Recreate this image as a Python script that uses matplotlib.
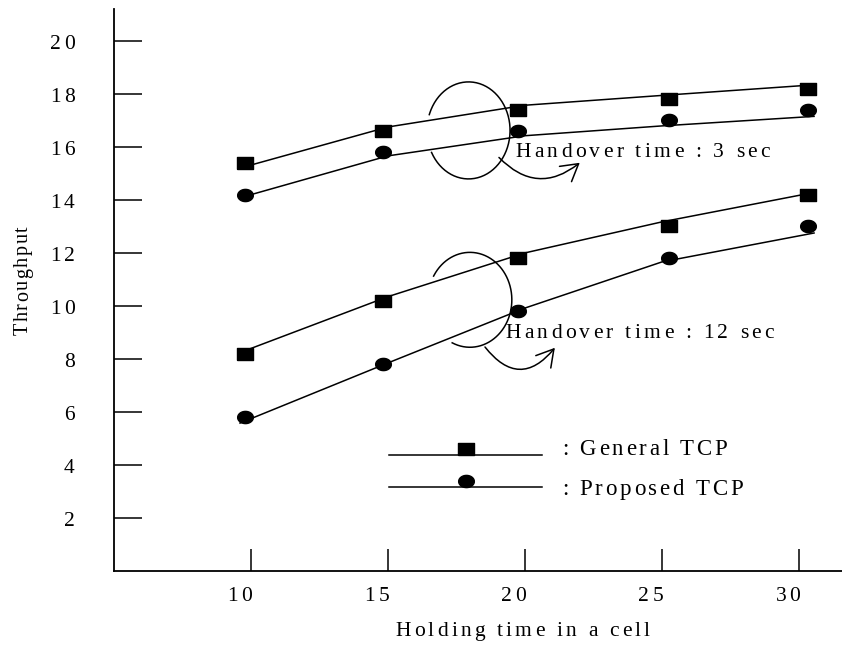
import numpy as np
import matplotlib
matplotlib.use("Agg")
import matplotlib.pyplot as plt
from matplotlib import font_manager
from matplotlib.ft2font import FT2Font
from matplotlib.font_manager import FontProperties
from matplotlib.transforms import IdentityTransform
from matplotlib.patches import FancyArrowPatch

# ===================================================================
# Data
# ===================================================================

hold_time = [10, 15, 20, 25, 30]
y_ticks = [2, 4, 6, 8, 10, 12, 14, 16, 18, 20]

# marker positions (markers sit slightly left of the ticks in the original)
marker_x = [9.78, 14.8, 19.75, 25.26, 30.33]
general_3s = [15.4, 16.6, 17.4, 17.8, 18.2]
proposed_3s = [14.2, 15.8, 16.6, 17.0, 17.4]
general_12s = [8.2, 10.2, 11.8, 13.0, 14.2]
proposed_12s = [5.8, 7.8, 9.8, 11.8, 13.0]

# the drawn curves do not pass exactly through the markers
curve_x = [9.6, 15, 20, 25, 30.55]
general_3s_curve = [15.2, 16.75, 17.57, 17.94, 18.34]
proposed_3s_curve = [14.08, 15.66, 16.42, 16.79, 17.15]
general_12s_curve = [8.24, 10.35, 12.0, 13.17, 14.28]
proposed_12s_curve = [5.58, 7.85, 9.92, 11.66, 12.75]

# ===================================================================
# Helpers
# ===================================================================

SERIF = "Liberation Serif"
DPI = 100
FONT_PATH = font_manager.findfont(FontProperties(family=SERIF))


def advances(s, size):
    font = FT2Font(FONT_PATH, hinting_factor=1)
    font.set_size(size, DPI)
    return [font.load_char(ord(ch)).linearHoriAdvance / 65536.0 for ch in s]


def spaced_text(fig, x, y, s, size, gap, ha="left", vertical=False):
    # letter-spaced text, x/y in display pixels (baseline)
    adv = advances(s, size)
    total = sum(adv) + gap * (len(s) - 1)
    pos = {"left": 0.0, "center": -total / 2, "right": -total}[ha]
    for ch, a in zip(s, adv):
        if ch != " ":
            if vertical:
                fig.text(x, y + pos, ch, rotation=90, rotation_mode="anchor",
                         ha="left", va="baseline", fontsize=size, family=SERIF,
                         transform=IdentityTransform())
            else:
                fig.text(x + pos, y, ch, ha="left", va="baseline",
                         fontsize=size, family=SERIF,
                         transform=IdentityTransform())
        pos += a + gap


def ellipse_arc(ax, cx, cy, a, b, t1, t2):
    t = np.radians(np.linspace(t1, t2, 200))
    ax.plot(cx + a * np.cos(t), cy + b * np.sin(t), color="black", lw=1.1)


RECT = [(-1, -0.8), (1, -0.8), (1, 0.8), (-1, 0.8), (-1, -0.8)]
_t = np.linspace(0, 2 * np.pi, 40)
OVAL = list(zip(np.cos(_t), 0.78 * np.sin(_t)))

# ===================================================================
# Plot
# ===================================================================

W, H = 842, 646
fig = plt.figure(figsize=(W / DPI, H / DPI), dpi=DPI)
ax = fig.add_axes([114 / W, 75 / H, 1 - 114 / W, (571 - 9) / H])
ax.set_xlim(5, 31.57)
ax.set_ylim(0, 21.2)

for sp in ["top", "right"]:
    ax.spines[sp].set_visible(False)
for sp in ["left", "bottom"]:
    ax.spines[sp].set_linewidth(1.3)

ax.set_xticks(hold_time)
ax.set_yticks(y_ticks)
ax.tick_params(axis="y", direction="in", length=20, width=1.1,
               labelleft=False)
ax.tick_params(axis="x", direction="in", length=16, width=1.1,
               labelbottom=False)

for cx, cy in [(curve_x, general_3s_curve), (curve_x, proposed_3s_curve),
               (curve_x, general_12s_curve), (curve_x, proposed_12s_curve)]:
    ax.plot(cx, cy, color="black", lw=1.1)

for ys, mk in [(general_3s, RECT), (proposed_3s, OVAL),
               (general_12s, RECT), (proposed_12s, OVAL)]:
    ax.plot(marker_x, ys, linestyle="none", marker=mk, markersize=11.3,
            color="black")

# annotations: open ellipses + curved arrows
ellipse_arc(ax, 17.94, 16.62, 1.515, 1.83, -153, 161)
ellipse_arc(ax, 17.99, 10.23, 1.53, 1.79, -115, 150)
for a, b, rad in [((19.05, 15.6), (22.0, 15.4), 0.45),
                  ((18.54, 8.45), (21.09, 8.42), 0.62)]:
    ax.add_patch(FancyArrowPatch(a, b, arrowstyle="->,head_length=0.6,head_width=0.35",
                                 connectionstyle=f"arc3,rad={rad}",
                                 mutation_scale=20, lw=1.1, color="black",
                                 shrinkA=0, shrinkB=0))

# legend drawn by hand
for ly, my, mk in [(4.38, 4.6, RECT), (3.17, 3.4, OVAL)]:
    ax.plot([15.04, 20.62], [ly, ly], color="black", lw=1.1)
    ax.plot([17.85], [my], linestyle="none", marker=mk, markersize=11.3,
            color="black")

to_px = ax.transData.transform
x0, y0 = to_px((5, 0))

for v in y_ticks:
    spaced_text(fig, x0 - 39, to_px((5, v))[1] - 8.5, str(v), 15.5, 3.0,
                ha="right")
for v in hold_time:
    spaced_text(fig, to_px((v, 0))[0] - 11, y0 - 30, str(v), 15.5, 3.0,
                ha="center")

px, py = to_px((19.64, 15.62))
spaced_text(fig, px, py, "Handover time : 3 sec", 15.5, 3.1)
px, py = to_px((19.27, 8.79))
spaced_text(fig, px, py, "Handover time : 12 sec", 15.5, 3.1)

px, py = to_px((21.35, 4.38))
spaced_text(fig, px, py, ": General TCP", 16.5, 2.7)
px, py = to_px((21.35, 2.87))
spaced_text(fig, px, py, ": Proposed TCP", 16.5, 2.7)

spaced_text(fig, 395, H - 636, "Holding time in a cell", 15.5, 3.0)
spaced_text(fig, 28, H - 335, "Throughput", 14.5, 1.6, vertical=True)

fig.savefig("out.png", dpi=DPI)
